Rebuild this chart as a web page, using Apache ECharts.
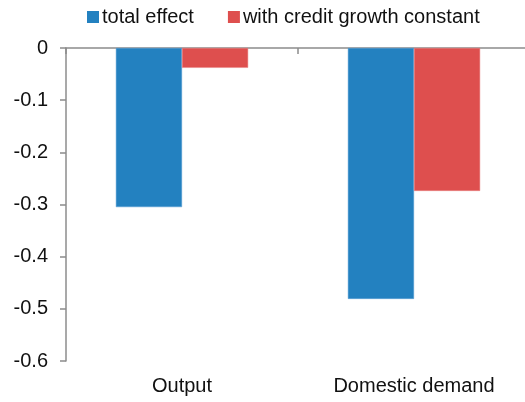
<!DOCTYPE html>
<html>
<head>
<meta charset="utf-8">
<script src="https://cdn.jsdelivr.net/npm/echarts@6/dist/echarts.min.js"></script>
<style>
  html, body { margin: 0; padding: 0; background: #fff; }
  #chart { width: 525px; height: 402px; }
</style>
</head>
<body>
<div id="chart"></div>
<script>
// Effect on output and domestic demand
const categories = ['Output', 'Domestic demand'];
const totalEffect = [-0.305, -0.481];
const creditConstant = [-0.038, -0.274];
const yTicks = { min: -0.6, max: 0, interval: 0.1 };

const font = 'Liberation Sans, Arial, sans-serif';
const axisGray = '#8c8c8c';
const textColor = '#111';

const chart = echarts.init(document.getElementById('chart'));
chart.setOption({
  animation: false,
  backgroundColor: '#fff',
  textStyle: { fontFamily: font },
  legend: {
    top: 2,
    left: 82,
    itemWidth: 12,
    itemHeight: 12,
    itemGap: 34,
    icon: 'rect',
    itemStyle: { borderWidth: 0 },
    textStyle: { fontSize: 20, color: textColor, fontFamily: font, padding: [0, 0, 0, -2] },
    data: ['total effect', 'with credit growth constant']
  },
  grid: {
    left: 66, width: 464, top: 48, bottom: 41,
    containLabel: false,
    outerBoundsMode: 'none'
  },
  xAxis: [
    {
      type: 'category',
      data: categories,
      position: 'top',
      axisLine: { onZero: false, lineStyle: { color: axisGray, width: 1.5 } },
      axisTick: { show: true, inside: true, length: 6, lineStyle: { color: axisGray, width: 1.5 } },
      axisLabel: { show: false }
    },
    {
      type: 'category',
      data: categories,
      position: 'bottom',
      axisLine: { show: false, onZero: false },
      axisTick: { show: false },
      axisLabel: { show: true, fontSize: 20, color: textColor, margin: 15, fontFamily: font }
    }
  ],
  yAxis: {
    type: 'value',
    min: yTicks.min,
    max: yTicks.max,
    interval: yTicks.interval,
    axisLine: { show: true, lineStyle: { color: axisGray, width: 1.5 } },
    axisTick: { show: true, length: 6, lineStyle: { color: axisGray, width: 1.5 } },
    splitLine: { show: false },
    axisLabel: {
      fontSize: 20,
      color: textColor,
      margin: 18,
      fontFamily: font,
      padding: [3, 0, 0, 0],
      formatter: v => {
        const r = Math.round(v * 10) / 10;
        return r === 0 ? '0' : r.toFixed(1);
      }
    }
  },
  series: [
    {
      name: 'total effect',
      type: 'bar',
      xAxisIndex: 0,
      data: totalEffect,
      barGap: '0%',
      barCategoryGap: '43%',
      itemStyle: { color: '#2381c0', borderColor: '#5a9fd4', borderWidth: 0.5 }
    },
    {
      name: 'with credit growth constant',
      type: 'bar',
      xAxisIndex: 0,
      data: creditConstant,
      barGap: '0%',
      barCategoryGap: '43%',
      itemStyle: { color: '#de4f4e', borderColor: '#e88080', borderWidth: 0.5 }
    }
  ]
});
</script>
</body>
</html>
